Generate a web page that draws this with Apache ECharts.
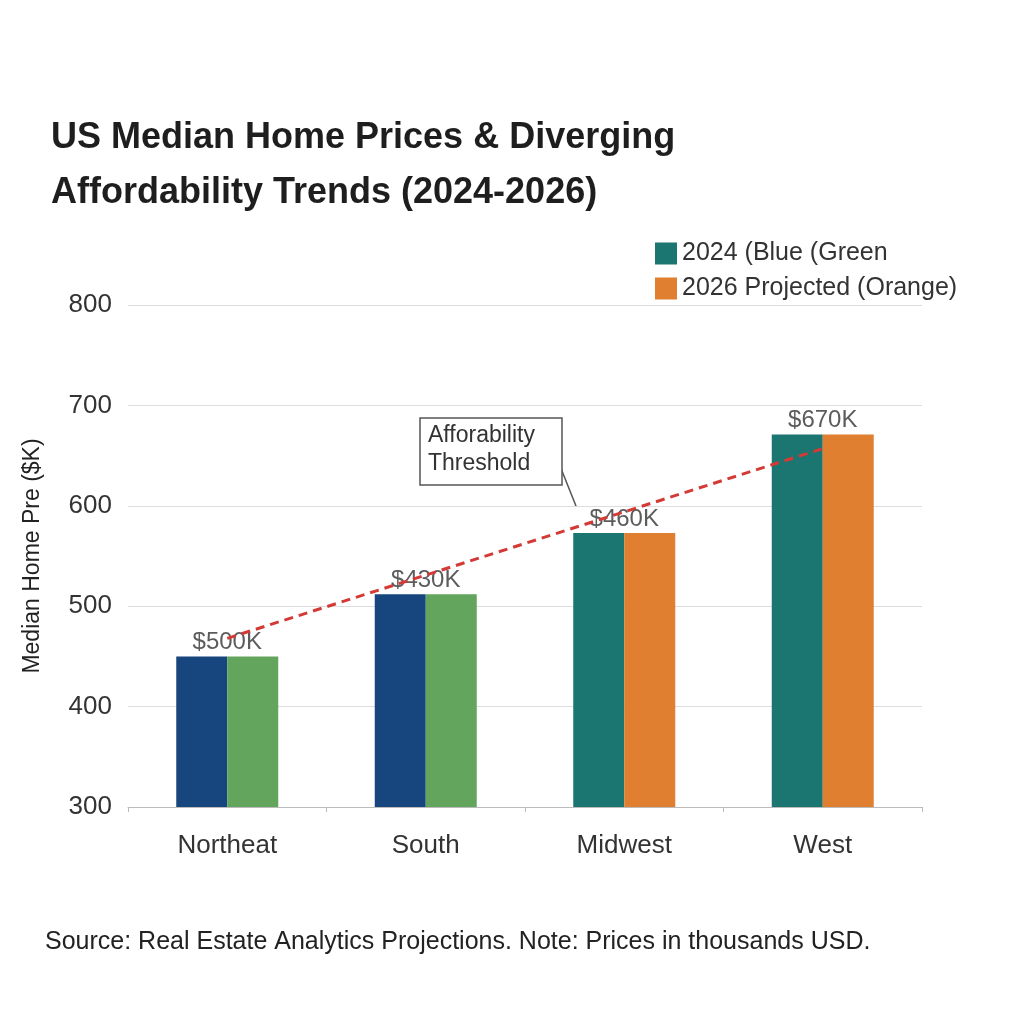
<!DOCTYPE html>
<html>
<head>
<meta charset="utf-8">
<script src="https://cdn.jsdelivr.net/npm/echarts@6/dist/echarts.min.js"></script>
<style>html,body{margin:0;padding:0;background:#fff}#chart{width:1024px;height:1024px}</style>
</head>
<body>
<div id="chart"></div>
<script>
const regions = ['Northeat', 'South', 'Midwest', 'West']
const price2024 = [450, 512, 573, 671]
const price2026 = [450, 512, 573, 671]
const barLabels = ['$500K', '$430K', '$460K', '$670K']
const threshold = [468, 531, 594, 657]
const yTicks = [300, 400, 500, 600, 700, 800]

const blue = '#17457e', green = '#63a55d', teal = '#1b7571', orange = '#df7f2f'
const font = 'Liberation Sans, Arial, sans-serif'

const chart = echarts.init(document.getElementById('chart'))
chart.setOption({
  backgroundColor: '#fff',
  textStyle: {fontFamily: font},
  title: {
    text: 'US Median Home Prices & Diverging\nAffordability Trends (2024-2026)',
    left: 46, top: 106,
    textStyle: {fontSize: 36, fontWeight: 'bold', color: '#1e1e1e', lineHeight: 55}
  },
  legend: {
    orient: 'vertical', left: 650, top: 236, itemGap: 10,
    itemWidth: 22, itemHeight: 22, icon: 'rect',
    textStyle: {fontSize: 25, color: '#333'},
    data: ['2024 (Blue (Green', '2026 Projected (Orange)']
  },
  grid: {left: 128, right: 102, top: 305, bottom: 217},
  xAxis: {
    type: 'category', data: regions,
    axisLine: {lineStyle: {color: '#bbb'}},
    axisTick: {show: true, lineStyle: {color: '#bbb'}},
    axisLabel: {fontSize: 26, color: '#333', margin: 26}
  },
  yAxis: {
    type: 'value', min: yTicks[0], max: yTicks[yTicks.length - 1], interval: 100,
    name: 'Median Home Pre ($K)', nameLocation: 'middle', nameGap: 84,
    nameTextStyle: {fontSize: 23, color: '#222'},
    axisLabel: {fontSize: 26, color: '#333', margin: 16},
    splitLine: {lineStyle: {color: '#ddd'}}
  },
  series: [
    {
      name: '2024 (Blue (Green', type: 'bar', barWidth: 51, barGap: '0%',
      itemStyle: {color: teal},
      data: price2024.map((v, i) => ({value: v, itemStyle: {color: i < 2 ? blue : teal}}))
    },
    {
      name: '2026 Projected (Orange)', type: 'bar', barWidth: 51,
      itemStyle: {color: orange},
      data: price2026.map((v, i) => ({value: v, itemStyle: {color: i < 2 ? green : orange}}))
    },
    {
      type: 'scatter', symbolSize: 0, silent: true, z: 5,
      data: price2024,
      label: {show: true, position: 'top', distance: 2, fontSize: 24, color: '#333',
        formatter: p => barLabels[p.dataIndex]}
    },
    {
      type: 'line', data: threshold, symbol: 'none', z: 6,
      lineStyle: {color: '#d43a35', width: 3, type: [9, 6]}
    }
  ],
  graphic: [
    {type: 'line', shape: {x1: 560, y1: 466, x2: 576, y2: 506}, style: {stroke: '#555', lineWidth: 1.5}},
    {type: 'rect', shape: {x: 420, y: 418, width: 142, height: 67}, style: {fill: '#fff', stroke: '#555', lineWidth: 1.5}},
    {type: 'text', left: 428, top: 422, style: {text: 'Afforability\nThreshold', fontSize: 23, fill: '#333', align: 'center', lineHeight: 28, x: 63, fontFamily: font}},
    {type: 'text', left: 45, top: 930, style: {text: 'Source: Real Estate Analytics Projections. Note: Prices in thousands USD.', fontSize: 25, fill: '#222', fontFamily: font}}
  ]
})
</script>
</body>
</html>
